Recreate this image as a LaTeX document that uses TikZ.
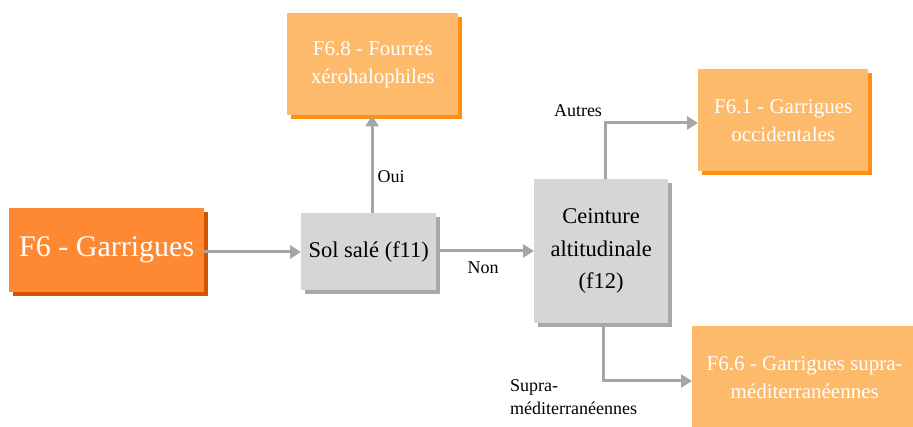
\documentclass[tikz,border=0pt]{standalone}
\usepackage{fontspec}
\setmainfont{Liberation Serif}
\usetikzlibrary{arrows.meta,positioning,shadows}
\definecolor{orangeA}{HTML}{FF8833}
\definecolor{orangeAsh}{HTML}{D35400}
\definecolor{orangeB}{HTML}{FDBA6B}
\definecolor{orangeBsh}{HTML}{FF9011}
\definecolor{grayA}{HTML}{D6D6D6}
\definecolor{grayAsh}{HTML}{A9A9A9}
\definecolor{lineC}{HTML}{A6A6A6}
\tikzset{
  x=1pt,y=-1pt,
  mainbox/.style={fill=orangeA, text=white, font=\fontsize{30}{34}\selectfont, align=center,
     inner sep=0pt, minimum width=195pt, minimum height=84pt, anchor=north west,
     drop shadow={shadow xshift=4pt, shadow yshift=-4pt, fill=orangeAsh, opacity=1}},
  leafbox/.style={fill=orangeB, text=white, font=\fontsize{21}{28}\selectfont, align=center,
     inner sep=0pt, minimum height=102pt, anchor=north west,
     drop shadow={shadow xshift=4pt, shadow yshift=-4pt, fill=orangeBsh, opacity=1}},
  decbox/.style={fill=grayA, text=black, font=\fontsize{22.5}{32.5}\selectfont, align=center,
     inner sep=0pt, anchor=north west,
     drop shadow={shadow xshift=4pt, shadow yshift=-4pt, fill=grayAsh, opacity=1}},
  conn/.style={draw=lineC, line width=3pt, -{Triangle[width=13pt,length=11pt]}},
  lbl/.style={font=\fontsize{18}{23}\selectfont, text=black, inner sep=0pt, align=left},
}
\begin{document}
\begin{tikzpicture}
\useasboundingbox (0,0) rectangle (913,427);
\node[mainbox] (f6) at (9,208) {F6 - Garrigues};
\node[leafbox, minimum width=171pt] (f68) at (287,13) {F6.8 - Fourrés\\xérohalophiles};
\node[decbox, minimum width=135pt, minimum height=77pt] (sol) at (301,213) {Sol salé (f11)};
\node[decbox, minimum width=134pt, minimum height=144pt] (cein) at (534,179) {Ceinture\\altitudinale\\(f12)};
\node[leafbox, minimum width=170pt] (f61) at (698,69) {F6.1 - Garrigues\\occidentales};
\node[leafbox, minimum width=225pt] (f66) at (692,326) {F6.6 - Garrigues supra-\\méditerranéennes};

\coordinate (c1) at (605,123);
\coordinate (c2) at (603,381);
\draw[conn] (f6.east |- 0,252) -- (sol.west |- 0,252);
\draw[conn] (sol.north -| 372,0) -- (f68.south -| 372,0);
\draw[conn] (sol.east |- 0,251) -- (cein.west |- 0,251);
\draw[conn] (cein.north -| c1) -- (c1) -- (f61.west |- c1);
\draw[conn] (cein.south -| c2) -- (c2) -- (f66.west |- c2);

\node[lbl] (oui) at (391,177) {Oui};
\node[lbl] (non) at (483,268) {Non};
\node[lbl] (autres) at (578,111) {Autres};
\node[lbl, anchor=north west] (supra) at (510,379) {Supra-\\méditerranéennes};
\end{tikzpicture}
\end{document}
